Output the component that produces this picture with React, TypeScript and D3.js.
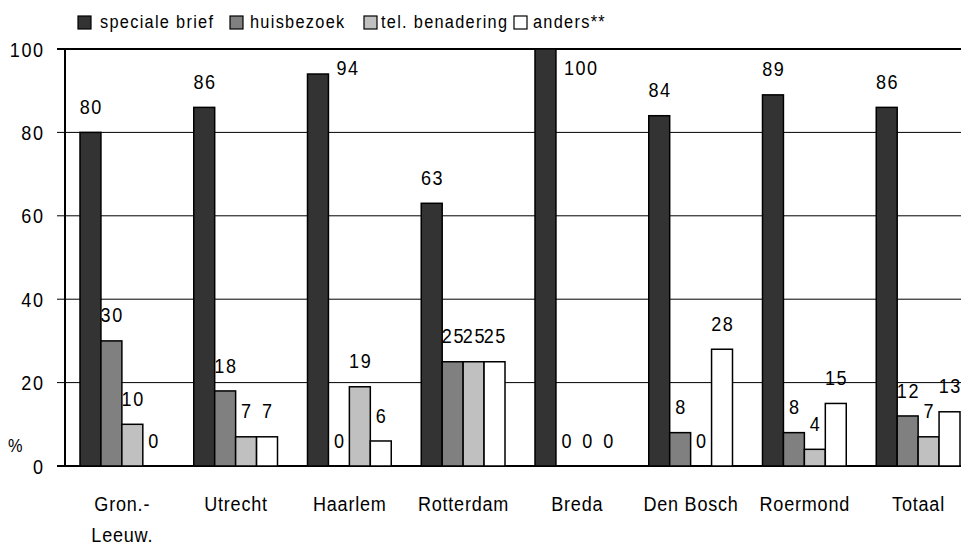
import React from "react";
import * as d3 from "d3";

const categories = ["Gron.-|Leeuw.", "Utrecht", "Haarlem", "Rotterdam", "Breda", "Den Bosch", "Roermond", "Totaal"];
const seriesNames = ["speciale brief", "huisbezoek", "tel. benadering", "anders**"];
const specialeBrief = [80, 86, 94, 63, 100, 84, 89, 86];
const huisbezoek = [30, 18, 0, 25, 0, 8, 8, 12];
const telBenadering = [10, 7, 19, 25, 0, 0, 4, 7];
const anders = [0, 7, 6, 25, 0, 28, 15, 13];
const yTicks = [0, 20, 40, 60, 80, 100];

const seriesValues = [specialeBrief, huisbezoek, telBenadering, anders];
const colors = ["#333333", "#808080", "#c0c0c0", "#ffffff"];
const legendBoxX = [78, 230, 364, 514];
const legendTextX = [100, 250, 381, 533];

const W = 961;
const H = 545;
const FONT = "'Liberation Sans', Arial, sans-serif";
const SX = 0.86;

type TProps = {
  x: number;
  y: number;
  size: number;
  ls: number;
  anchor?: "start" | "middle" | "end";
  dy?: string;
  children: React.ReactNode;
};

// condensed text: horizontal scale with letter spacing
function T({ x, y, size, ls, anchor = "start", dy, children }: TProps) {
  const off = anchor === "middle" ? ls / 2 : anchor === "end" ? ls : 0;
  return (
    <text
      transform={`translate(${x},${y}) scale(${SX},1)`}
      x={off}
      y={0}
      dy={dy}
      textAnchor={anchor}
      fontSize={size}
      letterSpacing={ls}
      fill="#000"
    >
      {children}
    </text>
  );
}

export default function App() {
  const left = 65;
  const bandW = 113.75;
  const x = d3
    .scaleBand<string>()
    .domain(categories)
    .range([left, left + bandW * categories.length])
    .paddingInner(0)
    .paddingOuter(0);
  const y = d3.scaleLinear().domain([0, 100]).range([466, 49]);
  const groupPad = 15;
  const inner = d3
    .scaleBand<string>()
    .domain(seriesNames)
    .range([groupPad, bandW - groupPad])
    .padding(0);
  const bw = inner.bandwidth();
  const NLS = 1.8;

  return (
    <div>
      <style>{`body{margin:0}`}</style>
      <svg width={W} height={H} style={{ display: "block", background: "#fff" }} fontFamily={FONT}>
        {yTicks.map((t) => (
          <line
            key={"g" + t}
            x1={left - 8}
            x2={W}
            y1={y(t)}
            y2={y(t)}
            stroke="#000"
            strokeWidth={t === 0 || t === 100 ? 2 : 1}
          />
        ))}
        <line x1={left} x2={left} y1={y(100) - 1} y2={y(0) + 1} stroke="#000" strokeWidth={2} />
        {yTicks.map((t) => (
          <T key={"t" + t} x={43} y={y(t)} dy="0.36em" anchor="end" size={21} ls={NLS}>
            {t}
          </T>
        ))}
        <T x={8} y={452} size={19} ls={0}>%</T>

        {categories.map((c, ci) => (
          <g key={c} transform={`translate(${x(c)},0)`}>
            {seriesNames.map((s, si) => {
              const v = seriesValues[si][ci];
              const bx = inner(s)!;
              return v > 0 ? (
                <rect
                  key={s}
                  x={bx}
                  y={y(v)}
                  width={bw}
                  height={y(0) - y(v)}
                  fill={colors[si]}
                  stroke="#000"
                  strokeWidth={1.5}
                />
              ) : null;
            })}
            {seriesNames.map((s, si) => {
              const v = seriesValues[si][ci];
              const bx = inner(s)!;
              const high = y(v) - 26 < y(100) + 10;
              return high ? (
                <T key={"l" + s} x={bx + bw + 8} y={y(100) + 18} dy="0.36em" size={21} ls={NLS}>
                  {v}
                </T>
              ) : (
                <T key={"l" + s} x={bx + bw / 2} y={y(v) - 26} dy="0.36em" anchor="middle" size={21} ls={NLS}>
                  {v}
                </T>
              );
            })}
            {c.split("|").map((line, li) => (
              <T key={"c" + li} x={bandW / 2} y={511 + li * 31} anchor="middle" size={21} ls={0.9}>
                {line}
              </T>
            ))}
          </g>
        ))}

        {seriesNames.map((s, si) => (
          <g key={"lg" + s}>
            <rect x={legendBoxX[si]} y={16} width={13} height={13} fill={colors[si]} stroke="#000" strokeWidth={1.2} />
            <T x={legendTextX[si]} y={28} size={19} ls={1.5}>
              {s}
            </T>
          </g>
        ))}
      </svg>
    </div>
  );
}
